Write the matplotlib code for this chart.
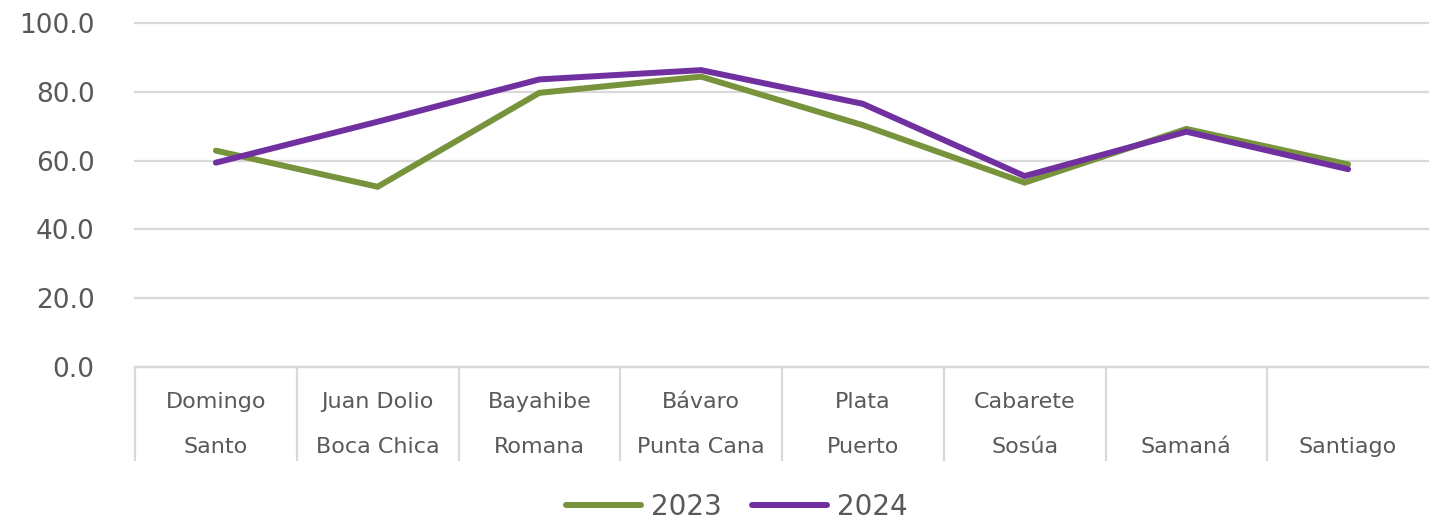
import matplotlib
matplotlib.use("Agg")
import matplotlib.pyplot as plt
import matplotlib.transforms as mtransforms
from matplotlib.lines import Line2D

top_labels = ["Domingo", "Juan Dolio", "Bayahibe", "Bávaro", "Plata", "Cabarete", "", ""]
bottom_labels = ["Santo", "Boca Chica", "Romana", "Punta Cana", "Puerto", "Sosúa", "Samaná", "Santiago"]
values_2023 = [62.9, 52.4, 79.7, 84.4, 70.3, 53.6, 69.2, 58.9]
values_2024 = [59.4, 71.3, 83.6, 86.3, 76.5, 55.5, 68.4, 57.5]
series_names = ["2023", "2024"]
yticks = [0, 20, 40, 60, 80, 100]

green = "#77933C"
purple = "#7030A0"
text_col = "#595959"
grid_col = "#D9D9D9"

plt.rcParams['font.family'] = ['DejaVu Sans']

W, H = 1429, 520
fig = plt.figure(figsize=(W / 100, H / 100), dpi=100)
ax = fig.add_axes([135 / W, (H - 367) / H, (1429 - 135) / W, 344 / H])

x = list(range(len(bottom_labels)))
lw = 4.3
ax.plot(x, values_2023, color=green, lw=lw, solid_capstyle='round', solid_joinstyle='miter', zorder=3)
ax.plot(x, values_2024, color=purple, lw=lw, solid_capstyle='round', solid_joinstyle='miter', zorder=4)

ax.set_xlim(-0.5, len(x) - 0.5)
ax.set_ylim(0, 100)
ax.set_yticks(yticks)
ax.set_yticklabels([f"{v:.1f}" for v in yticks], fontsize=19, color=text_col)
ax.tick_params(axis='y', length=0, pad=29)
ax.yaxis.grid(True, color=grid_col, lw=1.6)
for gl in ax.get_ygridlines():
    gl.set_clip_on(False)
ax.set_axisbelow(True)
for s in ['top', 'right', 'left']:
    ax.spines[s].set_visible(False)
ax.spines['bottom'].set_color(grid_col)
ax.spines['bottom'].set_linewidth(1.6)

# category separators
bounds = [i - 0.5 for i in range(len(x))]
ax.set_xticks(bounds)
ax.set_xticklabels([])
ax.tick_params(axis='x', length=68, width=1.6, color=grid_col, direction='out')

trans = mtransforms.blended_transform_factory(ax.transData, ax.transAxes)
for i in x:
    if top_labels[i]:
        ax.text(i, -0.102, top_labels[i], transform=trans, ha='center', va='center',
                fontsize=16, color=text_col)
    ax.text(i, -0.232, bottom_labels[i], transform=trans, ha='center', va='center',
            fontsize=16, color=text_col)

handles = [Line2D([0], [0], color=green, lw=lw, solid_capstyle='round'),
           Line2D([0], [0], color=purple, lw=lw, solid_capstyle='round')]
leg = fig.legend(handles, series_names, loc='center', bbox_to_anchor=(737 / W, 1 - 507 / H),
                 ncol=2, frameon=False, fontsize=20, handlelength=2.7, handletextpad=0.35,
                 columnspacing=1.1, labelcolor=text_col)

fig.savefig("out.png", dpi=100)
